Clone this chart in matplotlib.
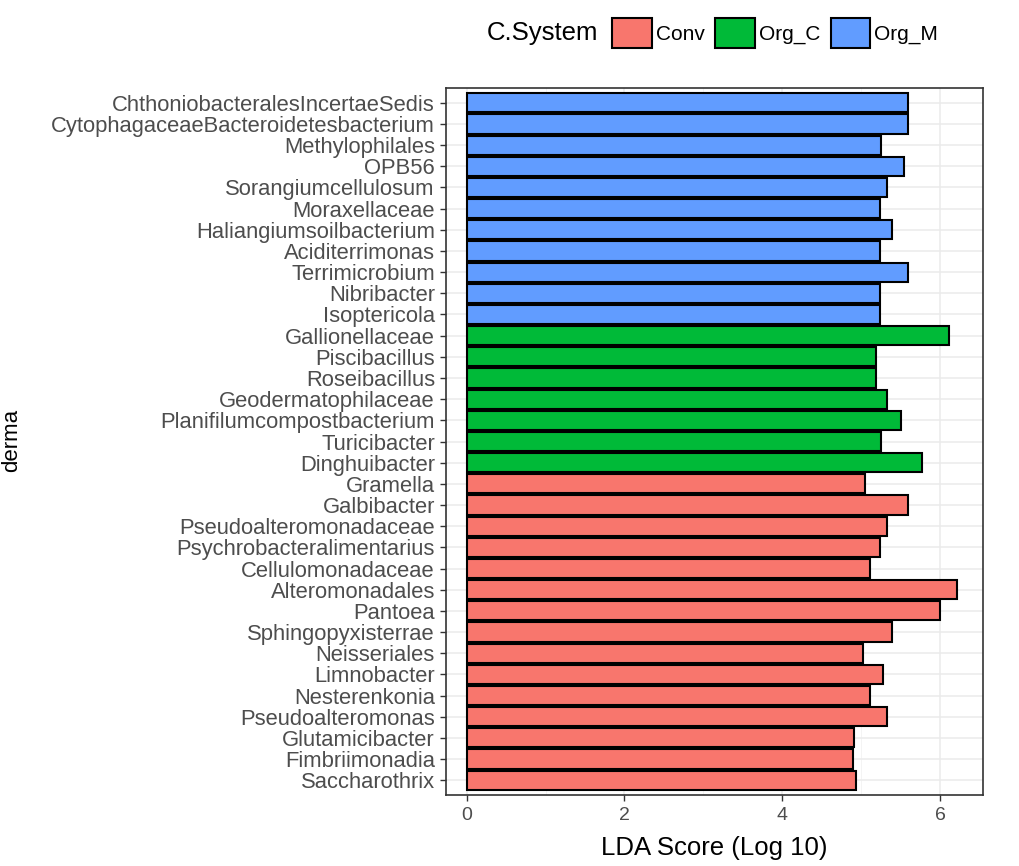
import matplotlib.pyplot as plt
import matplotlib.patches as mpatches
from matplotlib.ticker import MultipleLocator

plt.rcParams["font.family"] = ["Liberation Sans", "DejaVu Sans"]

# taxa listed bottom -> top, with their enriched cropping system and LDA score
taxa = [
    "Saccharothrix", "Fimbriimonadia", "Glutamicibacter", "Pseudoalteromonas",
    "Nesterenkonia", "Limnobacter", "Neisseriales", "Sphingopyxisterrae",
    "Pantoea", "Alteromonadales", "Cellulomonadaceae", "Psychrobacteralimentarius",
    "Pseudoalteromonadaceae", "Galbibacter", "Gramella",
    "Dinghuibacter", "Turicibacter", "Planifilumcompostbacterium",
    "Geodermatophilaceae", "Roseibacillus", "Piscibacillus", "Gallionellaceae",
    "Isoptericola", "Nibribacter", "Terrimicrobium", "Aciditerrimonas",
    "Haliangiumsoilbacterium", "Moraxellaceae", "Sorangiumcellulosum", "OPB56",
    "Methylophilales", "CytophagaceaeBacteroidetesbacterium",
    "ChthoniobacteralesIncertaeSedis",
]
system = ["Conv"] * 15 + ["Org_C"] * 7 + ["Org_M"] * 11
lda = [
    4.93, 4.89, 4.91, 5.33, 5.11, 5.27, 5.02, 5.39, 6.00, 6.21, 5.11, 5.23,
    5.32, 5.59, 5.05,
    5.77, 5.25, 5.50, 5.32, 5.18, 5.18, 6.11,
    5.23, 5.23, 5.59, 5.23, 5.39, 5.23, 5.32, 5.54, 5.25, 5.59, 5.59,
]
levels = ["Conv", "Org_C", "Org_M"]
palette = {"Conv": "#F8766D", "Org_C": "#00BA38", "Org_M": "#619CFF"}

fig = plt.figure(figsize=(10.2, 8.66), dpi=100)
ax = fig.add_axes([446 / 1020, 1 - 795 / 866, (983 - 446) / 1020, (795 - 88) / 866])

ypos = list(range(len(taxa)))
ax.barh(ypos, lda, height=0.9, color=[palette[s] for s in system],
        edgecolor="black", linewidth=1.5, zorder=3)

ax.set_xlim(-0.26, 6.54)
ax.set_ylim(-0.7, len(taxa) - 0.3)
ax.set_yticks(ypos)
ax.set_yticklabels(taxa)
ax.xaxis.set_major_locator(MultipleLocator(2))
ax.xaxis.set_minor_locator(MultipleLocator(1))

ax.grid(True, which="major", color="#EBEBEB", linewidth=1.1, zorder=0)
ax.grid(True, which="minor", axis="x", color="#F2F2F2", linewidth=0.6, zorder=0)
ax.set_axisbelow(True)
for sp in ax.spines.values():
    sp.set_color("#333333")
    sp.set_linewidth(1.2)

ax.tick_params(axis="both", which="major", length=4, width=1, color="#333333",
               labelcolor="#4D4D4D")
ax.tick_params(axis="y", labelsize=15.8, pad=4)
ax.tick_params(axis="x", which="minor", length=0)
ax.tick_params(axis="x", labelsize=14, pad=5)

ax.set_xlabel("LDA Score (Log 10)", fontsize=18.5, color="black", labelpad=8)
ax.set_ylabel("derma", fontsize=16, color="black")
ax.yaxis.set_label_coords(22 / 1020, 1 - 440 / 866, transform=fig.transFigure)

# legend across the top, title to the left of the keys
fig.text(487 / 1020, 1 - 33 / 866, "C.System", fontsize=18.5, va="center", ha="left")
handles = [mpatches.Patch(facecolor=palette[k], edgecolor="black", linewidth=1.5, label=k)
           for k in levels]
fig.legend(handles=handles, loc="center left", ncol=3, frameon=False,
           bbox_to_anchor=(612 / 1020, 1 - 33 / 866), fontsize=15,
           handlelength=1.9, handleheight=1.8, handletextpad=0.2,
           columnspacing=0.5, borderaxespad=0, borderpad=0)

fig.savefig("out.png", dpi=100)
